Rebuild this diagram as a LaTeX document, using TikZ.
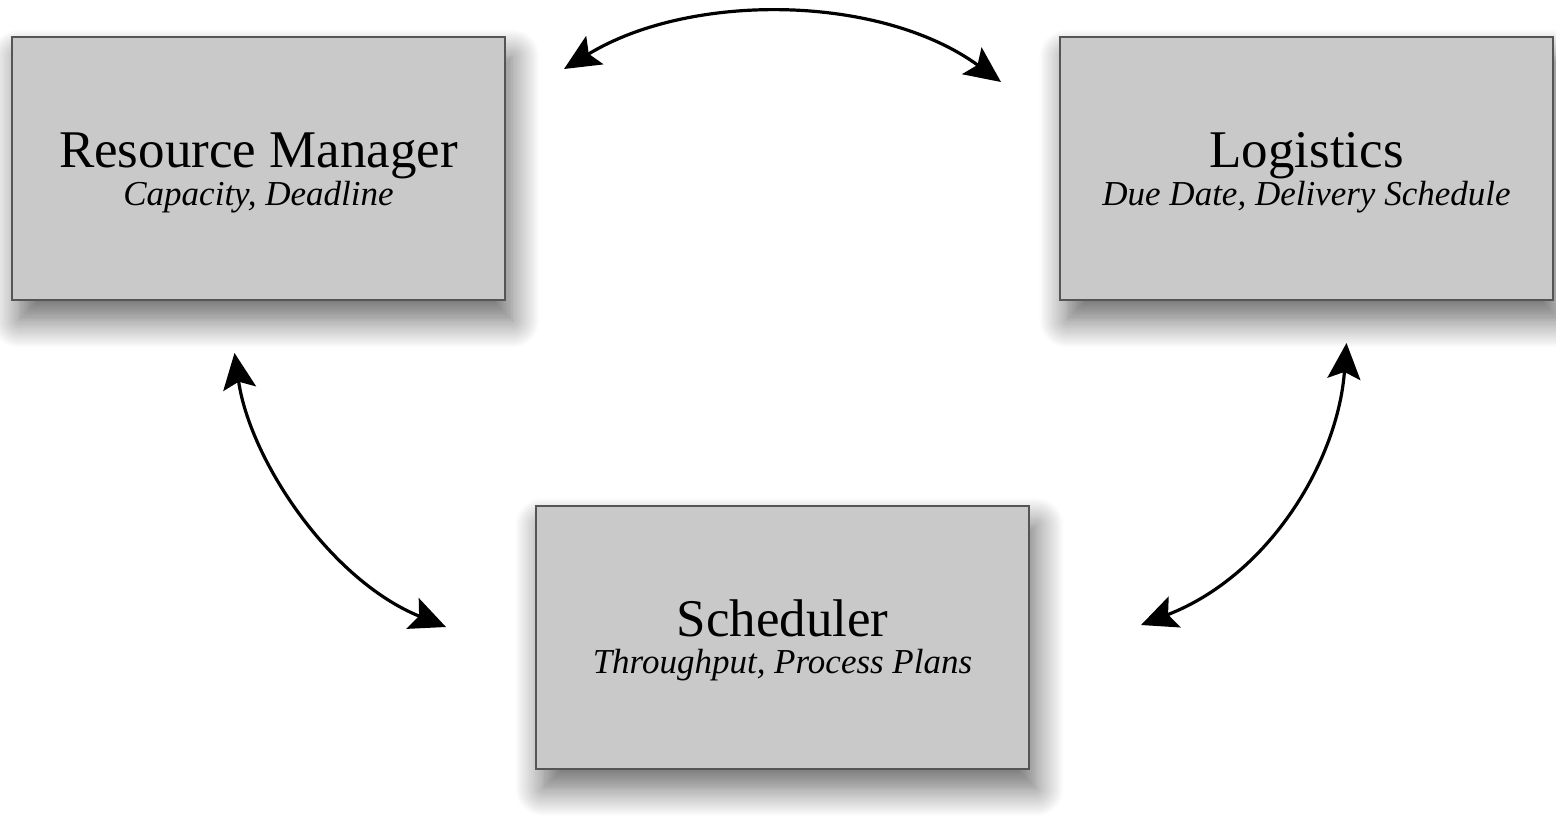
\documentclass[tikz,border=0pt]{standalone}
\usepackage{fontspec}
\setmainfont{Liberation Serif}
\usetikzlibrary{arrows.meta,shadows.blur}
\definecolor{boxfill}{HTML}{C9C9C9}
\definecolor{boxline}{HTML}{555555}
\tikzset{
  box/.style={draw=boxline, line width=2pt, fill=boxfill, minimum width=493pt, minimum height=263pt, inner sep=0pt,
    blur shadow={shadow xshift=7pt, shadow yshift=-20pt, shadow blur radius=28pt, shadow blur steps=16, shadow opacity=60}},
  ttl/.style={anchor=base, inner sep=0pt, font=\fontsize{53}{60}\selectfont},
  sub/.style={anchor=base, inner sep=0pt, font=\fontsize{35}{40}\selectfont\itshape},
  link/.style={line width=3.2pt, {Stealth[length=36pt,width=33pt,inset=7pt]}-{Stealth[length=36pt,width=33pt,inset=7pt]}}
}
\begin{document}
\begin{tikzpicture}[x=1pt,y=-1pt]
\useasboundingbox (0,0) rectangle (1556,838);
\node[box] (rm) at (258.5,168.5) {};
\node[box] (lg) at (1306.5,168.5) {};
\node[box] (sc) at (782.5,637) {};
\node[ttl] (rmt) at ([yshift=1pt]rm.center) {Resource Manager};
\node[sub] (rms) at ([yshift=-37pt]rm.center) {Capacity, Deadline};
\node[ttl] (lgt) at ([yshift=1pt]lg.center) {Logistics};
\node[sub] (lgs) at ([yshift=-37pt]lg.center) {Due Date, Delivery Schedule};
\node[ttl] (sct) at ([yshift=1pt]sc.center) {Scheduler};
\node[sub] (scs) at ([yshift=-36pt]sc.center) {Throughput, Process Plans};
\draw[link] ([shift={(58,33)}]rm.north east) .. controls (690,-8) and (880,-6) .. ([shift={(-58,46)}]lg.north west);
\draw[link] ([shift={(-24,52)}]rm.south) .. controls (250,460) and (330,580) .. ([shift={(-89,-10)}]sc.west);
\draw[link] ([shift={(40,42)}]lg.south) .. controls (1338,460) and (1270,575) .. ([shift={(111,-12)}]sc.east);
\end{tikzpicture}
\end{document}
